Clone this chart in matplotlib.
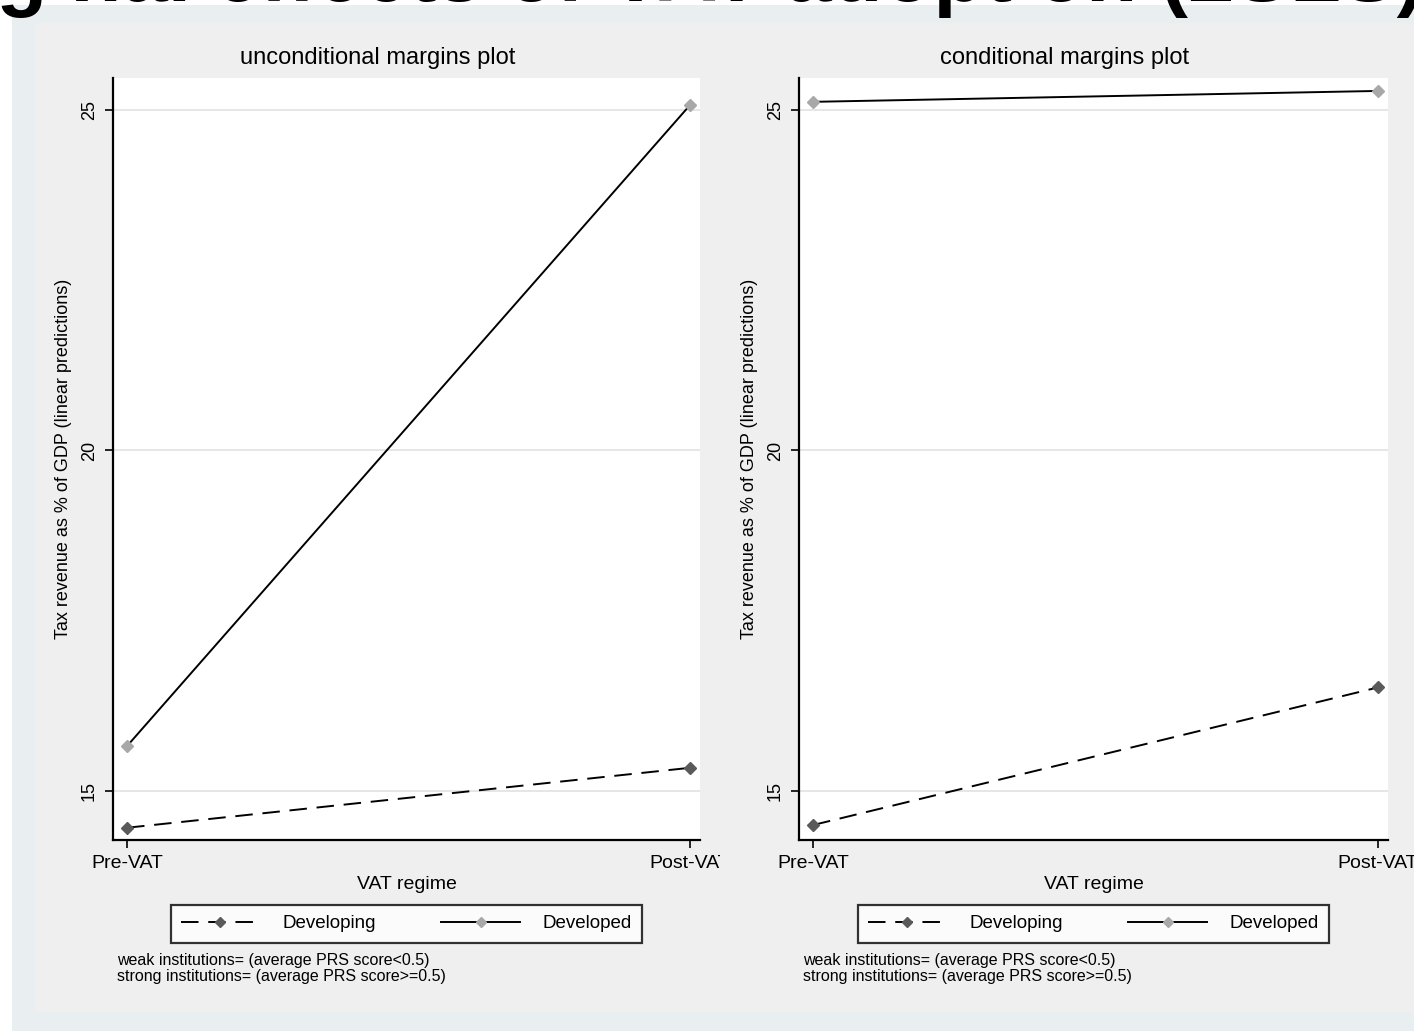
import matplotlib
matplotlib.use('Agg')
import matplotlib.pyplot as plt
from matplotlib.patches import Rectangle
from matplotlib.lines import Line2D
from matplotlib.transforms import Bbox

plt.rcParams['font.family'] = ['Liberation Sans', 'DejaVu Sans']

# data
regimes = ['Pre-VAT', 'Post-VAT']
panel_titles = ['unconditional margins plot', 'conditional margins plot']
developing = [[14.46, 15.34], [14.50, 16.52]]
developed = [[15.66, 25.07], [25.12, 25.28]]
yticks = [15, 20, 25]
notes = ['weak institutions= (average PRS score<0.5)',
         'strong institutions= (average PRS score>=0.5)']

W, H = 1414, 1031
fig = plt.figure(figsize=(W / 100, H / 100), dpi=100)
fig.patch.set_facecolor('#e9eff1')

# white margin strips + grey graph region (screenshot look)
for r in [Rectangle((0, 0), 12 / W, 1), Rectangle((0, 1 - 5 / H), 1, 5 / H)]:
    r.set(transform=fig.transFigure, facecolor='white', edgecolor='none', zorder=-5)
    fig.patches.append(r)
bg = Rectangle((35 / W, 1 - 1012 / H), 1, (1012 - 23) / H, transform=fig.transFigure,
               facecolor='#efefef', edgecolor='none', zorder=-4)
fig.patches.append(bg)

# cut-off heading at top of the screenshot
fig.text(0.45, 1 - 1 / H, 'Marginal effects of VAT adoption (2SLS)', ha='center',
         va='baseline', fontsize=60, fontweight='bold', color='black', zorder=-3)

lefts = [113, 799]
widths = [587, 589]
clip_right = [720, 1414]

for i in range(2):
    ax = fig.add_axes([lefts[i] / W, 1 - 840 / H, widths[i] / W, 762 / H])
    ax.set_facecolor('white')
    x = [0, 1]
    ax.plot(x, developing[i], color='black', lw=1.4, dashes=(9, 5), zorder=3)
    ax.plot(x, developing[i], ls='none', marker='D', ms=6, color='#5a5a5a', zorder=4)
    ax.plot(x, developed[i], color='black', lw=1.4, zorder=3)
    ax.plot(x, developed[i], ls='none', marker='D', ms=6, color='#a8a8a8', zorder=4)

    ax.set_xlim(-0.025, 1.018)
    ax.set_ylim(14.28, 25.47)
    ax.set_yticks(yticks)
    ax.set_yticklabels([str(t) for t in yticks], rotation=90, va='center', fontsize=13)
    ax.set_xticks(x)
    ax.set_xticklabels(regimes, fontsize=14)
    ax.tick_params(axis='both', direction='out', length=6, width=1.2, color='black', pad=5)
    ax.grid(axis='y', color='#e2e2e2', lw=1.2)
    ax.set_axisbelow(True)
    for s in ['top', 'right']:
        ax.spines[s].set_visible(False)
    for s in ['left', 'bottom']:
        ax.spines[s].set_linewidth(1.6)

    ax.set_ylabel('Tax revenue as % of GDP (linear predictions)', fontsize=13, labelpad=6)
    ax.set_xlabel('VAT regime', fontsize=14, labelpad=3)

    cx = lefts[i] + widths[i] / 2
    fig.text((cx - 29) / W, 1 - 58 / H, panel_titles[i], ha='center', va='center',
             fontsize=17)

    handles = [Line2D([], [], color='black', lw=1.4, dashes=(9, 5), marker='D',
                      ms=5, mfc='#5a5a5a', mec='#5a5a5a'),
               Line2D([], [], color='black', lw=1.4, marker='D', ms=5,
                      mfc='#a8a8a8', mec='#a8a8a8')]
    leg = ax.legend(handles, ['Developing', 'Developed'], loc='upper center',
                    bbox_to_anchor=(0.5, -0.085), ncol=2, frameon=True,
                    fancybox=False, edgecolor='black', fontsize=13.5,
                    handlelength=4.2, handletextpad=1.2, columnspacing=3.5,
                    borderpad=0.55, borderaxespad=0)
    leg.get_frame().set_linewidth(1.6)

    fig.text((lefts[i] + 4) / W, 1 - 961 / H, notes[0], fontsize=11.5, va='center')
    fig.text((lefts[i] + 4) / W, 1 - 977 / H, notes[1], fontsize=11.5, va='center')

    # graph region clips the last tick label on the left panel
    for lab in ax.get_xticklabels():
        lab.set_clip_box(Bbox([[0, 0], [clip_right[i], H]]))
        lab.set_clip_on(True)

fig.savefig('out.png', dpi=100)
